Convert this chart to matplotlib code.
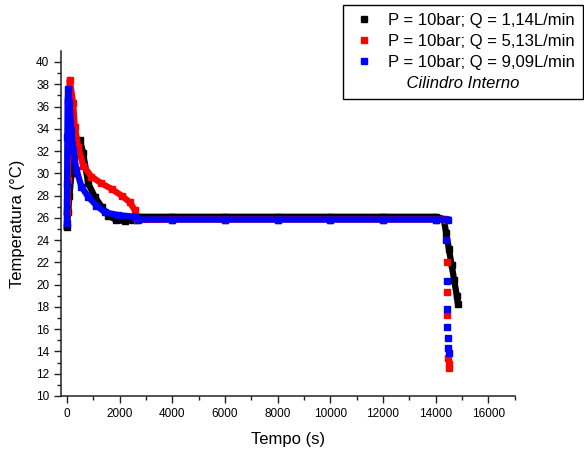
import numpy as np
import matplotlib
matplotlib.use("Agg")
import matplotlib.pyplot as plt
from matplotlib.lines import Line2D

plt.rcParams['font.family'] = ['Liberation Sans', 'DejaVu Sans']

# Q = 1,14 L/min
t_black = [0, 50, 100, 180, 280, 400, 500, 620, 810, 1060, 1320, 1570, 1880, 2200, 2500, 2700,
           4000, 6000, 8000, 10000, 12000, 14000, 14300, 14400, 14500, 14600, 14700, 14800, 14840]
T_black = [25.2, 26.5, 28.0, 30.0, 31.5, 32.5, 33.0, 31.8, 29.1, 27.9, 27.0, 26.2, 25.8, 25.7, 25.8, 26.1,
           26.1, 26.1, 26.1, 26.1, 26.1, 26.1, 25.9, 24.6, 23.2, 21.8, 20.4, 19.0, 18.3]

# Q = 5,13 L/min
t_red = [0, 20, 40, 60, 80, 110, 240, 300, 430, 620, 935, 1315, 1700, 2075, 2390, 2580, 2650,
         4000, 6000, 8000, 10000, 12000, 14000, 14400]
T_red = [26.5, 27.4, 29.4, 31.8, 33.9, 38.4, 36.3, 34.2, 32.4, 30.7, 29.7, 29.1, 28.6, 28.0, 27.4, 26.7, 25.8,
         25.85, 25.85, 25.85, 25.85, 25.85, 25.85, 25.85]
t_red_drop = [14420, 14420, 14430, 14480, 14500, 14510]
T_red_drop = [22.0, 19.3, 17.3, 13.4, 12.9, 12.5]

# Q = 9,09 L/min
t_blue = [0, 10, 20, 30, 50, 100, 175, 240, 365, 555, 810, 1125, 1445, 1950, 2580, 2700,
          4000, 6000, 8000, 10000, 12000, 14000, 14450]
T_blue = [25.5, 29.0, 33.3, 36.5, 37.6, 36.3, 33.9, 32.1, 30.3, 28.8, 27.9, 27.1, 26.5, 26.25, 26.1, 25.85,
          25.85, 25.85, 25.85, 25.85, 25.85, 25.85, 25.85]
t_blue_drop = [14380, 14420, 14420, 14420, 14460, 14480, 14490]
T_blue_drop = [24.0, 20.3, 17.8, 16.2, 15.2, 14.3, 13.9]

labels = ['P = 10bar; Q = 1,14L/min', 'P = 10bar; Q = 5,13L/min', 'P = 10bar; Q = 9,09L/min']
colors = ['black', 'red', 'blue']

fig = plt.figure(figsize=(5.84, 4.5), dpi=100)
ax = fig.add_axes([0.1045, 0.12, 0.777, 0.767])

ms = 4.5
ax.plot(t_black, T_black, color='black', marker='s', ms=ms, lw=4.5)
ax.plot(t_red, T_red, color='red', marker='s', ms=ms, lw=4.5)
ax.plot(t_red_drop, T_red_drop, color='red', marker='s', ms=ms, ls='none')
ax.plot(t_blue, T_blue, color='blue', marker='s', ms=ms, lw=4.5)
ax.plot(t_blue_drop, T_blue_drop, color='blue', marker='s', ms=ms, ls='none')

ax.set_xlim(-220, 17000)
ax.set_ylim(10, 41)
ax.set_xticks(np.arange(0, 16001, 2000))
ax.set_xticks(np.arange(0, 17001, 1000), minor=True)
ax.set_yticks(np.arange(10, 41, 2))
ax.set_yticks(np.arange(10, 41, 1), minor=True)
ax.spines['top'].set_visible(False)
ax.spines['right'].set_visible(False)
for s in ['left', 'bottom']:
    ax.spines[s].set_linewidth(1.1)
    ax.spines[s].set_color('#222222')
ax.tick_params(which='major', length=5, width=1, labelsize=8.5, color='#222222')
ax.tick_params(which='minor', length=3, width=1, color='#222222')

ax.set_xlabel('Tempo (s)', fontsize=12, labelpad=9)
ax.set_ylabel('Temperatura (°C)', fontsize=12, labelpad=8)

handles = [Line2D([], [], color=c, marker='s', ls='none', ms=4.5) for c in colors]
handles.append(Line2D([], [], ls='none'))
leg = fig.legend(handles, labels + ['    Cilindro Interno'], loc='upper right',
                 bbox_to_anchor=(0.998, 0.99), borderaxespad=0, fontsize=12, frameon=True,
                 fancybox=False, edgecolor='black', framealpha=1, handlelength=1.6,
                 handletextpad=0.6, labelspacing=0.36, borderpad=0.5)
leg.get_frame().set_linewidth(1.0)
leg.get_texts()[3].set_style('italic')

fig.savefig('out.png', dpi=100)
